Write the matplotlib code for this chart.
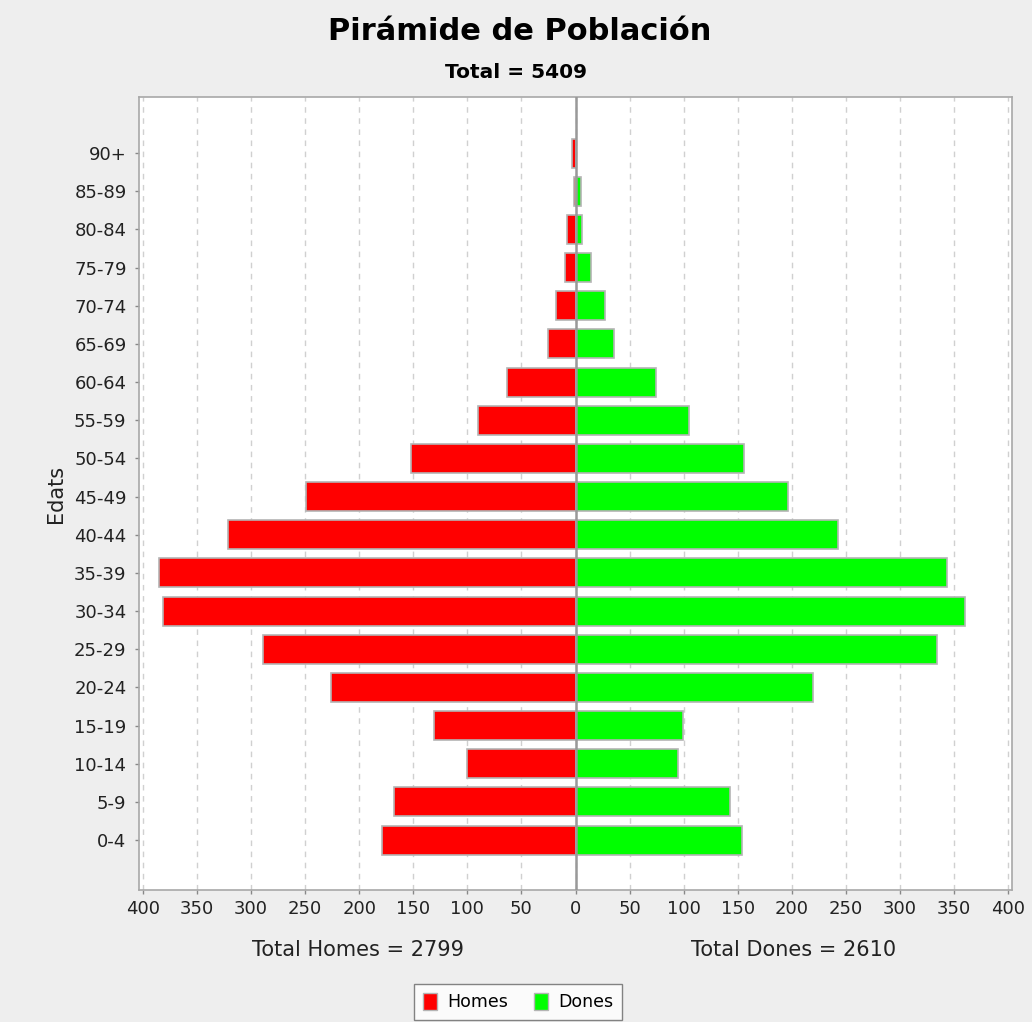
import matplotlib
matplotlib.use("Agg")
import matplotlib.pyplot as plt
import numpy as np
from matplotlib.ticker import FuncFormatter, MultipleLocator
from matplotlib.patches import Patch

age_groups = ["0-4", "5-9", "10-14", "15-19", "20-24", "25-29", "30-34", "35-39",
              "40-44", "45-49", "50-54", "55-59", "60-64", "65-69", "70-74",
              "75-79", "80-84", "85-89", "90+"]
homes = [179, 168, 100, 131, 226, 289, 381, 385, 321, 249, 152, 90, 63, 25, 18, 10, 8, 1, 3]
dones = [154, 143, 95, 99, 220, 334, 360, 343, 243, 196, 156, 105, 74, 36, 27, 14, 6, 5, 0]
title = "Pirámide de Población"
subtitle = "Total = 5409"
total_homes_label = "Total Homes = 2799"
total_dones_label = "Total Dones = 2610"

W, H = 1032, 1022
bg = "#EEEEEE"
fig = plt.figure(figsize=(W / 100, H / 100), dpi=100, facecolor=bg)
L, R, T, B = 139, 1012, 97, 890
ax = fig.add_axes([L / W, 1 - B / H, (R - L) / W, (B - T) / H])
ax.set_facecolor("white")

y = np.arange(len(age_groups))
edge = "#b4b4b4"
ax.barh(y, -np.array(homes), height=0.76, color="#FF0000", edgecolor=edge, linewidth=1.2, zorder=3)
ax.barh(y, np.array(dones), height=0.76, color="#00FF00", edgecolor=edge, linewidth=1.2, zorder=3)
ax.axvline(0, color="#999999", linewidth=1.8, zorder=4)

ax.set_xlim(-403.5, 403.5)
ax.set_ylim(-1.31, len(age_groups) - 1 + 1.47)
ax.xaxis.set_major_locator(MultipleLocator(50))
ax.xaxis.set_major_formatter(FuncFormatter(lambda v, p: f"{abs(int(round(v)))}"))
ax.set_yticks(y)
ax.set_yticklabels(age_groups)
ax.grid(axis="x", color="#d0d0d0", linestyle=(0, (4, 4)), linewidth=1.0, zorder=0)
ax.set_axisbelow(True)

for s in ax.spines.values():
    s.set_color("#a8a8a8")
    s.set_linewidth(1.2)
ax.tick_params(axis="both", colors="#888888", labelcolor="#222222", labelsize=13, length=3, width=1)
ax.tick_params(axis="y", pad=6)
ax.tick_params(axis="x", pad=4)
ax.set_ylabel("Edats", fontsize=15, color="#222222", labelpad=6)

fig.text(520 / W, 1 - 32 / H, title, ha="center", va="center", fontsize=22, fontweight="bold", color="black")
fig.text(516 / W, 1 - 73 / H, subtitle, ha="center", va="center", fontsize=14.5, fontweight="bold", color="black")
fig.text((L + 576) / 2 / W, 1 - 950 / H, total_homes_label, ha="center", va="center", fontsize=15, color="#222222")
fig.text((576 + R) / 2 / W, 1 - 950 / H, total_dones_label, ha="center", va="center", fontsize=15, color="#222222")

handles = [Patch(facecolor="#FF0000", edgecolor=edge, label="Homes"),
           Patch(facecolor="#00FF00", edgecolor=edge, label="Dones")]
leg = fig.legend(handles=handles, loc="center", bbox_to_anchor=(518 / W, 1 - 1002 / H), ncol=2,
                 fontsize=12.5, frameon=True, fancybox=False, handlelength=0.8, handleheight=1.1,
                 handletextpad=0.6, columnspacing=1.5, borderpad=0.5)
leg.get_frame().set_edgecolor("#666666")
leg.get_frame().set_facecolor("white")
leg.get_frame().set_linewidth(1.0)

fig.savefig("out.png", dpi=100, facecolor=bg)
